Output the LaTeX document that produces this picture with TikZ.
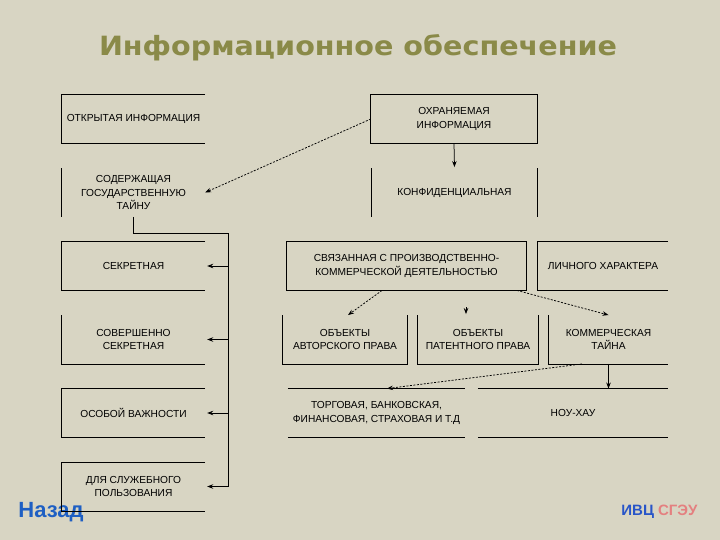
\documentclass[tikz,border=0pt]{standalone}
\usepackage{fontspec}
\setmainfont{Liberation Sans}
\newfontfamily\titlefont[FakeStretch=1.08]{DejaVu Sans}
\usetikzlibrary{arrows.meta,positioning}
\definecolor{bgcol}{RGB}{216,213,195}
\definecolor{titlecol}{RGB}{138,138,72}
\definecolor{ivcblue}{RGB}{40,85,200}
\definecolor{sgeured}{RGB}{228,128,128}
\definecolor{backblue}{RGB}{30,95,195}

\begin{document}
\begin{tikzpicture}[x=1pt,y=-1pt]
	\tikzset{
		box/.style={minimum height=48.5pt,inner sep=0pt,align=center,font=\fontsize{10.2}{13.5}\selectfont},
		edge/.style={line width=0.7pt},
		arr/.style={-{Stealth[length=6pt,width=4.5pt]},line width=0.75pt},
		darr/.style={arr,dash pattern=on 2pt off 1.5pt}
	}
	\fill[bgcol] (0,0) rectangle (720,540);
	\useasboundingbox (0,0) rectangle (720,540);
	\node[font=\titlefont\bfseries\fontsize{26.5}{30}\selectfont,text=titlecol] (title) at (358,48) {Информационное обеспечение};
	\node[box,minimum width=143pt] (otkr) at (133.5,119) {ОТКРЫТАЯ ИНФОРМАЦИЯ};
	\node[box,minimum width=143pt] (sod) at (133.5,192.5) {СОДЕРЖАЩАЯ\\ГОСУДАРСТВЕННУЮ\\ТАЙНУ};
	\node[box,minimum width=143pt] (sekr) at (133.5,266) {СЕКРЕТНАЯ};
	\node[box,minimum width=143pt] (sovs) at (133.5,339.5) {СОВЕРШЕННО\\СЕКРЕТНАЯ};
	\node[box,minimum width=143pt] (osob) at (133.5,413) {ОСОБОЙ ВАЖНОСТИ};
	\node[box,minimum width=143pt] (dsp) at (133.5,486.5) {ДЛЯ СЛУЖЕБНОГО\\ПОЛЬЗОВАНИЯ};
	\node[box,minimum width=166pt] (ohr) at (454,119) {ОХРАНЯЕМАЯ\\ИНФОРМАЦИЯ};
	\node[box,minimum width=165pt] (konf) at (454.5,192.5) {КОНФИДЕНЦИАЛЬНАЯ};
	\node[box,minimum width=239pt] (sviaz) at (406.5,266) {СВЯЗАННАЯ С ПРОИЗВОДСТВЕННО-\\КОММЕРЧЕСКОЙ ДЕЯТЕЛЬНОСТЬЮ};
	\node[box,minimum width=130pt] (lich) at (603,266) {ЛИЧНОГО ХАРАКТЕРА};
	\node[box,minimum width=124pt] (avt) at (345,339.5) {ОБЪЕКТЫ\\АВТОРСКОГО ПРАВА};
	\node[box,minimum width=120pt] (pat) at (478,339.5) {ОБЪЕКТЫ\\ПАТЕНТНОГО ПРАВА};
	\node[box,minimum width=119pt] (komm) at (608.5,339.5) {КОММЕРЧЕСКАЯ\\ТАЙНА};
	\node[box,minimum width=177pt] (torg) at (376.5,413) {ТОРГОВАЯ, БАНКОВСКАЯ,\\ФИНАНСОВАЯ, СТРАХОВАЯ И Т.Д};
	\node[box,minimum width=190pt] (nou) at (573,413) {НОУ-ХАУ};
	\node[font=\bfseries\fontsize{22}{26}\selectfont,text=backblue] (nazad) at (51,512) {Назад};
	\node[font=\bfseries\fontsize{15}{18}\selectfont,anchor=east] (ivc) at (701,512) {\textcolor{ivcblue}{ИВЦ} \textcolor{sgeured}{СГЭУ}};
	\foreach \n in {otkr,sekr,osob,dsp,lich}
		\draw[edge] (\n.north east) -- (\n.north west) -- (\n.south west) -- (\n.south east);
	\foreach \n in {avt,pat}
		\draw[edge] (\n.north west) -- (\n.south west) -- (\n.south east) -- (\n.north east);
	\foreach \n in {sovs,komm}
		\draw[edge] (\n.north west) -- (\n.south west) -- (\n.south east);
	\foreach \n in {torg,nou}
		\draw[edge] (\n.north west) -- (\n.north east) (\n.south west) -- (\n.south east);
	\draw[edge] (sod.north west) -- (sod.south west);
	\draw[edge] (konf.north west) -- (konf.south west) (konf.north east) -- (konf.south east);
	\draw[edge] (ohr.north west) rectangle (ohr.south east);
	\draw[edge] (sviaz.north west) rectangle (sviaz.south east);
	\coordinate (bus) at (228,233);
	\coordinate (patin) at ([xshift=-12pt,yshift=8pt]pat.north);
	\draw[arr] (sod.south) |- (bus) |- ([xshift=2pt]dsp.east);
	\foreach \n in {sekr,sovs,osob}
		\draw[arr] (bus |- \n.east) -- ([xshift=2pt]\n.east);
	\draw[arr] (ohr.south) -- ([yshift=1pt]konf.north);
	\draw[darr] (ohr.west) -- (sod.east);
	\draw[darr] ([xshift=-24.5pt]sviaz.south) -- ([xshift=3pt]avt.north);
	\draw[arr] (patin) -- ([yshift=1pt]patin |- pat.north);
	\draw[darr] ([xshift=110.5pt]sviaz.south) -- (komm.north);
	\draw[arr] (komm.south) -- (komm.south |- nou.north);
	\draw[darr] ([xshift=-26.5pt]komm.south) -- ([xshift=10.5pt]torg.north);
\end{tikzpicture}
\end{document}
